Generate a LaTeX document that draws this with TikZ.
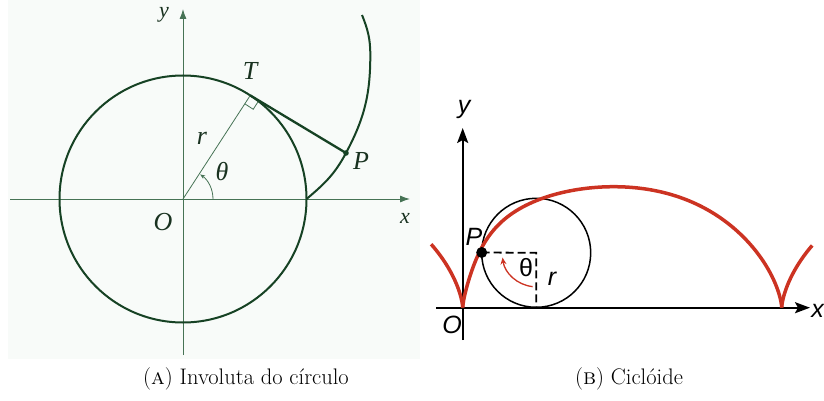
\documentclass[tikz,border=0pt]{standalone}
\usepackage{fontspec}
\newfontfamily\lsans{Liberation Sans}
\newfontfamily\lserif{Liberation Serif}
\usetikzlibrary{arrows.meta,calc}
\definecolor{dkgreen}{RGB}{22,66,36}
\definecolor{axgreen}{RGB}{70,115,85}
\definecolor{labgreen}{RGB}{25,50,32}
\definecolor{cred}{RGB}{204,51,34}
\definecolor{scanbg}{RGB}{248,251,249}
\tikzset{
  axisA/.style={axgreen, line width=0.9pt, -{Latex[length=10pt,width=7pt]}},
  curveA/.style={dkgreen, line width=2pt, line join=round},
  thinA/.style={axgreen, line width=0.8pt},
  tanA/.style={dkgreen, line width=2.3pt},
  labA/.style={font=\lserif\itshape\fontsize{26}{30}\selectfont, text=labgreen, inner sep=0pt},
  labAs/.style={font=\lserif\itshape\fontsize{22}{26}\selectfont, text=labgreen, inner sep=0pt},
  axisB/.style={black, line width=2pt, -{Stealth[length=15pt,width=11pt,inset=3pt]}},
  circB/.style={black, line width=1.5pt},
  redB/.style={cred, line width=3.5pt, line join=round},
  dashB/.style={black, line width=1.8pt, dash pattern=on 8pt off 4pt},
  arcB/.style={cred, line width=1.3pt, -{Stealth[length=7pt,width=6pt]}},
  labB/.style={font=\lsans\itshape\fontsize{25}{29}\selectfont, inner sep=0pt},
  capt/.style={font=\fontsize{22.5}{26}\selectfont, inner sep=0pt},
  declare function={cu(\t)=(\t - sin(\t r))/(2*pi);}
}
\begin{document}
\begin{tikzpicture}[x=1pt,y=-1pt]
\useasboundingbox (0,0) rectangle (824,401);
\fill[scanbg] (8,0) rectangle (420,359);

% ---------- (A) involute ----------
\coordinate (O1) at (183,199);
\coordinate (xa0) at (10,199);
\coordinate (xa1) at (410,199);
\coordinate (ya0) at (183,355);
\coordinate (ya1) at (183,9);
\draw[axisA] (xa0) -- (xa1);
\draw[axisA] (ya0) -- (ya1);
\draw[curveA] (O1) circle[radius=123.5];
\coordinate (T) at ($(O1)+(-57:123.5)$);
\coordinate (S1) at (306.5,199);
\coordinate (P1) at (346,153);
\coordinate (M1) at (370.3,55);
\coordinate (E1) at (362,15);
\draw[thinA] (O1) -- (T);
\draw[thinA] ($(T)+(123:10)$) -- ($(T)+(123:10)+(33:10)$) -- ($(T)+(33:10)$);
\draw[tanA] (T) -- (P1);
\draw[curveA] (S1) to[out=40, in=242] (P1) to[out=62, in=270] (M1) to[out=90, in=292] (E1);
\draw[thinA, -{Stealth[length=5pt,width=4pt]}] ($(O1)+(0:30)$) arc[start angle=0, end angle=-55, radius=30];
\fill[dkgreen] (P1) circle[radius=2.8];
\node[labAs] (ly1) at (164,15) {y};
\node[labAs] (lx1) at (405,218) {x};
\node[labA] (lO1) at (163,222) {O};
\node[labA] (lT) at (250,71) {T};
\node[labA] (lr1) at (202,138) {r};
\node[labA] (lth1) at (222,172) {θ};
\node[labA] (lP1) at (361,161) {P};

% ---------- (B) cycloid ----------
\coordinate (O2) at (462.7,307.7);
\coordinate (xb0) at (436,307.7);
\coordinate (xb1) at (810,307.7);
\coordinate (yb0) at (462.7,340);
\coordinate (yb1) at (462.7,128);
\coordinate (C2) at (536.2,252.8);
\coordinate (P2) at (481.7,252.5);
\coordinate (B2) at (536.2,307.7);
\draw[axisB] (xb0) -- (xb1);
\draw[axisB] (yb0) -- (yb1);
\draw[circB] (C2) circle[radius=54.5];
\draw[redB] plot[domain=-1.62:0, samples=40, variable=\t]
  ({462.7+50.8*(\t - sin(\t r))}, {307.7-60.5*(1-cos(\t r))});
\draw[redB] plot[domain=0:6.2831, samples=160, variable=\t]
  ({462.7+319*cu(\t)-545*abs(cu(\t))*sqrt(abs(cu(\t)))*(1-cu(\t))^4*sqrt(abs(1-cu(\t)))}, {307.7-60.5*(1-cos(\t r))});
\draw[redB] plot[domain=0:1.6, samples=40, variable=\t]
  ({781.7+50.8*(\t - sin(\t r))}, {307.7-60.5*(1-cos(\t r))});
\draw[dashB] (P2) -- (C2) -- (B2);
\draw[arcB] ($(C2)+(96:34)$) arc[start angle=96, end angle=172, radius=34];
\fill (P2) circle[radius=5.5];
\node[labB] (ly2) at (464,109) {y};
\node[labB, anchor=east] (lx2) at (824,311) {x};
\node[labB] (lO2) at (452,325) {O};
\node[labB] (lP2) at (474,237) {P};
\node[labB] (lr2) at (552,279) {r};
\node[labB, font=\lsans\fontsize{25}{29}\selectfont] (lth2) at (526,268) {θ};

% ---------- captions ----------
\node[capt] (capA) at (246,379) {(\textsc{a}) Involuta do círculo};
\node[capt] (capB) at (629,379) {(\textsc{b}) Ciclóide};
\end{tikzpicture}
\end{document}
